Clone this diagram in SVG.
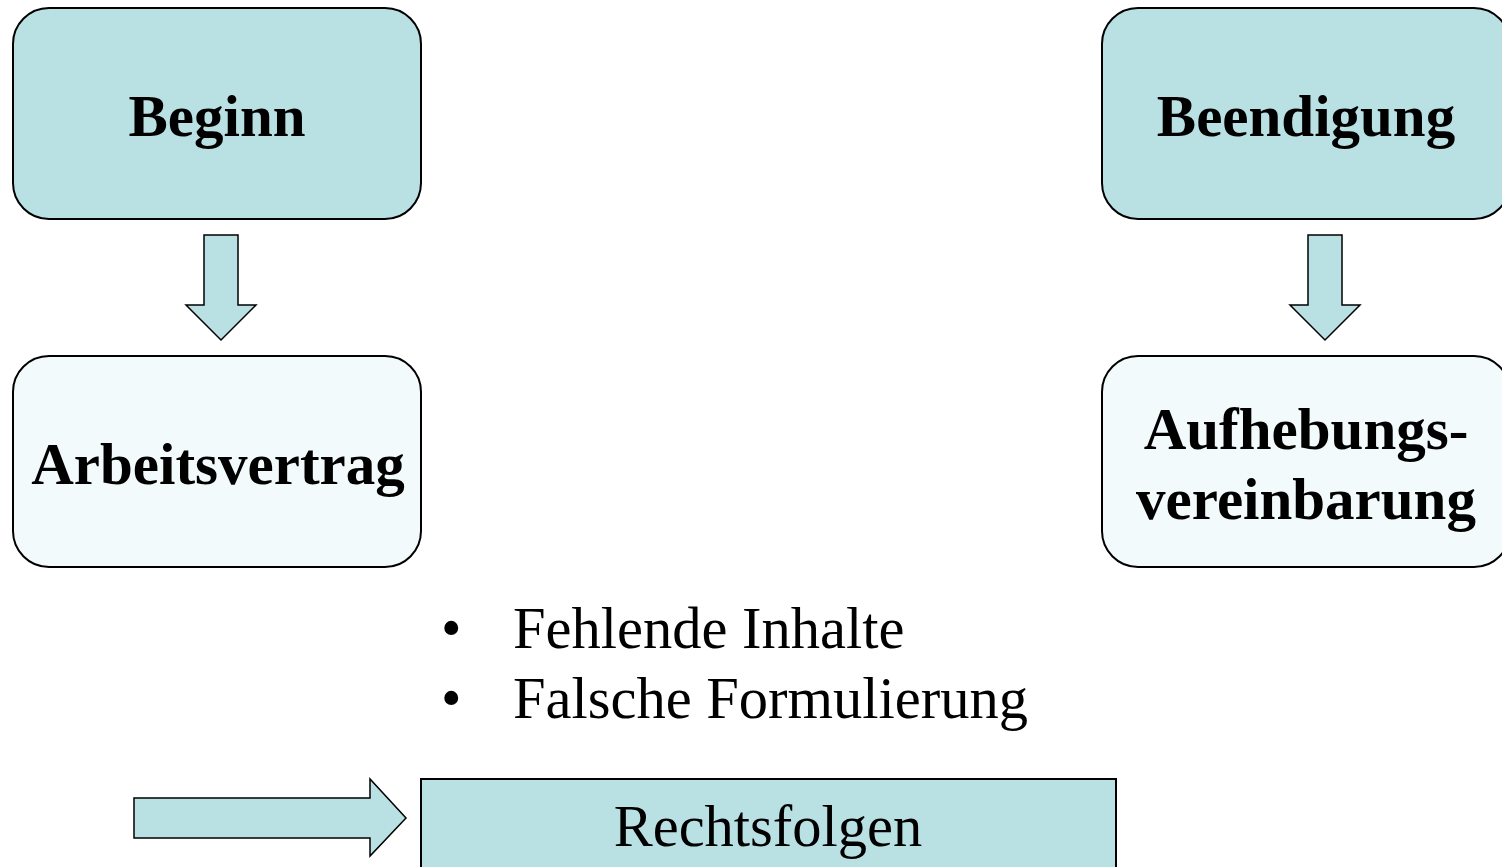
<svg xmlns="http://www.w3.org/2000/svg" width="1502" height="867" viewBox="0 0 1502 867">
<style>
.dark{fill:#b9e0e3;stroke:#000;stroke-width:2}
.light{fill:#f3fafb;stroke:#000;stroke-width:2}
.arr{fill:#b9e0e3;stroke:#000;stroke-width:1.5;stroke-linejoin:miter}
.b{font-family:"Liberation Serif","Times New Roman",serif;font-weight:bold;font-size:59px;fill:#000;text-anchor:middle}
.r{font-family:"Liberation Serif","Times New Roman",serif;font-size:58.5px;fill:#000}
</style>
<rect width="1502" height="867" fill="#fff"/>
<g id="beginn"><rect class="dark" x="13" y="8" width="408" height="211" rx="36"/><text class="b" x="217" y="136">Beginn</text></g>
<g id="beendigung"><rect class="dark" x="1102" y="8" width="408" height="211" rx="36"/><text class="b" x="1306" y="136">Beendigung</text></g>
<g id="arbeitsvertrag"><rect class="light" x="13" y="356" width="408" height="211" rx="36"/><text class="b" x="218" y="484">Arbeitsvertrag</text></g>
<g id="aufhebung"><rect class="light" x="1102" y="356" width="408" height="211" rx="36"/><text class="b" x="1306" y="449">Aufhebungs-</text><text class="b" x="1306" y="519">vereinbarung</text></g>
<g id="bullets"><text class="r" x="441" y="648">•</text><text class="r" x="513" y="648">Fehlende Inhalte</text><text class="r" x="441" y="718">•</text><text class="r" x="513" y="718">Falsche Formulierung</text></g>
<g id="rechtsfolgen"><rect class="dark" x="421" y="779" width="695" height="100"/><text class="r" x="768" y="846" text-anchor="middle">Rechtsfolgen</text></g>
<g id="connectors">
<path class="arr" d="M204 235H238V305H256L221 340L186 305H204Z"/>
<path class="arr" d="M1308 235H1342V305H1360L1325 340L1290 305H1308Z"/>
<path class="arr" d="M134 798H370V779L406 818L370 856V838H134Z"/>
</g>
</svg>
